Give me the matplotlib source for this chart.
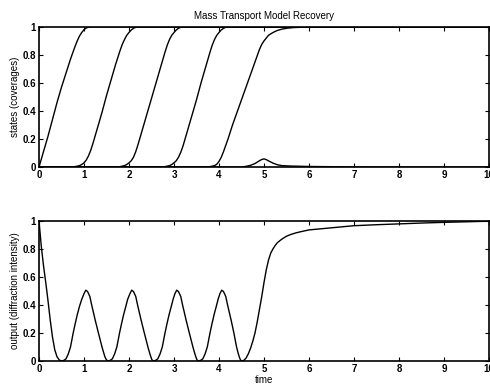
import matplotlib
matplotlib.use("Agg")
import matplotlib.pyplot as plt

# ---------------- data ----------------
title = "Mass Transport Model Recovery"
ylabel_top = "states (coverages)"
ylabel_bot = "output (diffraction intensity)"
xlabel = "time"

xticks = [0, 1, 2, 3, 4, 5, 6, 7, 8, 9, 10]
xticklabels = ["0", "1", "2", "3", "4", "5", "6", "7", "8", "9", "10"]
yticks = [0, 0.2, 0.4, 0.6, 0.8, 1.0]
yticklabels = ["0", "0.2", "0.4", "0.6", "0.8", "1"]

# layer coverages
t1 = [0, 0.05, 0.1, 0.2, 0.3, 0.4, 0.5, 0.6, 0.7, 0.8, 0.85, 0.9, 0.95, 1.0, 1.05, 1.1, 1.15, 10]
c1 = [0.0, 0.055, 0.11, 0.22, 0.34, 0.46, 0.57, 0.67, 0.77, 0.86, 0.9, 0.935, 0.96, 0.98, 0.992, 0.998, 1.0, 1.0]

t2 = [0, 0.7, 0.8, 0.9, 0.95, 1.0, 1.05, 1.1, 1.15, 1.2, 1.25, 1.3, 1.4, 1.5, 1.6, 1.7, 1.8,
      1.85, 1.9, 1.95, 2.0, 2.05, 2.1, 2.15, 2.2, 10]
c2 = [0, 0, 0.003, 0.01, 0.018, 0.03, 0.05, 0.08, 0.12, 0.17, 0.225, 0.28, 0.39, 0.51, 0.62, 0.73, 0.83,
      0.875, 0.91, 0.94, 0.96, 0.978, 0.99, 0.997, 1.0, 1.0]

t3 = [0, 1.7, 1.8, 1.9, 1.95, 2.0, 2.05, 2.1, 2.15, 2.2, 2.25, 2.3, 2.4, 2.5, 2.6, 2.7, 2.8,
      2.85, 2.9, 2.95, 3.0, 3.05, 3.1, 3.15, 3.2, 10]
c3 = [0, 0, 0.003, 0.01, 0.018, 0.03, 0.045, 0.07, 0.11, 0.16, 0.215, 0.27, 0.38, 0.49, 0.6, 0.71, 0.82,
      0.87, 0.91, 0.94, 0.96, 0.978, 0.99, 0.997, 1.0, 1.0]

t4 = [0, 2.7, 2.8, 2.9, 2.95, 3.0, 3.05, 3.1, 3.15, 3.2, 3.25, 3.3, 3.4, 3.5, 3.6, 3.7, 3.8,
      3.85, 3.9, 3.95, 4.0, 4.05, 4.1, 4.15, 4.2, 10]
c4 = [0, 0, 0.003, 0.01, 0.018, 0.03, 0.045, 0.07, 0.105, 0.15, 0.205, 0.26, 0.37, 0.48, 0.6, 0.71, 0.82,
      0.87, 0.91, 0.94, 0.96, 0.978, 0.99, 0.997, 1.0, 1.0]

t5 = [0, 3.7, 3.8, 3.9, 3.95, 4.0, 4.05, 4.1, 4.15, 4.2, 4.3, 4.4, 4.5, 4.6, 4.7, 4.8, 4.9,
      4.95, 5.0, 5.05, 5.1, 5.2, 5.3, 5.4, 5.5, 5.65, 5.8, 6.0, 6.2, 10]
c5 = [0, 0, 0.003, 0.01, 0.02, 0.04, 0.07, 0.11, 0.155, 0.2, 0.3, 0.39, 0.48, 0.57, 0.66, 0.75, 0.84,
      0.875, 0.9, 0.92, 0.94, 0.96, 0.975, 0.984, 0.99, 0.995, 0.997, 0.999, 1.0, 1.0]

t6 = [0, 4.5, 4.6, 4.7, 4.8, 4.9, 4.95, 5.0, 5.05, 5.1, 5.2, 5.3, 5.4, 5.6, 6.0, 7.0, 8.0, 10]
c6 = [0, 0, 0.005, 0.012, 0.025, 0.045, 0.054, 0.058, 0.053, 0.044, 0.028, 0.016, 0.01, 0.007, 0.004, 0.001, 0, 0]

# diffraction output
t_out = [0, 0.05, 0.1, 0.15, 0.2, 0.25, 0.3, 0.35, 0.4, 0.45, 0.5,
         0.55, 0.6, 0.65, 0.7, 0.76, 0.8, 0.85, 0.9, 0.95, 1.0, 1.04, 1.08, 1.13, 1.17,
         1.25, 1.32, 1.4, 1.44, 1.47, 1.5, 1.53,
         1.58, 1.63, 1.68, 1.73, 1.79, 1.83, 1.88, 1.93, 1.97, 2.02, 2.06, 2.1, 2.15, 2.19,
         2.27, 2.34, 2.42, 2.46, 2.49, 2.51, 2.54,
         2.59, 2.64, 2.69, 2.74, 2.8, 2.84, 2.89, 2.94, 2.98, 3.02, 3.06, 3.1, 3.15, 3.19,
         3.27, 3.34, 3.42, 3.46, 3.49, 3.51, 3.54,
         3.59, 3.64, 3.69, 3.74, 3.8, 3.84, 3.89, 3.94, 3.98, 4.02, 4.06, 4.1, 4.15, 4.19,
         4.27, 4.33, 4.39, 4.43, 4.46, 4.48, 4.5,
         4.55, 4.6, 4.65, 4.7, 4.75, 4.8, 4.85, 4.9, 4.95, 5.0, 5.05, 5.1, 5.15, 5.2,
         5.25, 5.3, 5.4, 5.5, 5.6, 5.7, 5.8, 6.0, 6.5, 7.0, 7.5, 8.0, 8.5, 9.0, 9.5, 10.0]
y_out = [1.0, 0.82, 0.68, 0.56, 0.43, 0.29, 0.17, 0.08, 0.03, 0.007, 0.0,
         0.004, 0.015, 0.05, 0.1, 0.2, 0.26, 0.33, 0.39, 0.44, 0.48, 0.505, 0.495, 0.46, 0.4,
         0.29, 0.2, 0.1, 0.055, 0.025, 0.008, 0.0,
         0.004, 0.015, 0.05, 0.1, 0.2, 0.26, 0.33, 0.39, 0.44, 0.48, 0.505, 0.495, 0.46, 0.4,
         0.29, 0.2, 0.1, 0.055, 0.025, 0.008, 0.0,
         0.004, 0.015, 0.05, 0.1, 0.2, 0.26, 0.33, 0.39, 0.44, 0.48, 0.505, 0.495, 0.46, 0.4,
         0.29, 0.2, 0.1, 0.055, 0.025, 0.008, 0.0,
         0.004, 0.015, 0.05, 0.1, 0.2, 0.26, 0.33, 0.39, 0.44, 0.48, 0.505, 0.495, 0.46, 0.4,
         0.29, 0.2, 0.1, 0.05, 0.02, 0.006, 0.0,
         0.004, 0.02, 0.05, 0.09, 0.14, 0.2, 0.28, 0.37, 0.46, 0.56, 0.65, 0.72, 0.77, 0.8,
         0.825, 0.845, 0.87, 0.89, 0.903, 0.913, 0.921, 0.935, 0.95, 0.965, 0.972, 0.978, 0.984, 0.989, 0.993, 0.997]

# ---------------- plotting ----------------
plt.rcParams['font.family'] = ['Liberation Sans', 'DejaVu Sans']
fs = 7

fig = plt.figure(figsize=(4.90, 3.84), dpi=100)
ax1 = fig.add_axes([0.0796, 0.565, 0.9184, 0.365])
ax2 = fig.add_axes([0.0796, 0.060, 0.9184, 0.365])

for t, c in [(t1, c1), (t2, c2), (t3, c3), (t4, c4), (t5, c5), (t6, c6)]:
    ax1.plot(t, c, color='black', lw=1.0, solid_joinstyle='round')
ax2.plot(t_out, y_out, color='black', lw=1.0, solid_joinstyle='round')

for ax in (ax1, ax2):
    ax.set_xlim(0, 10)
    ax.set_ylim(0, 1)
    ax.set_xticks(xticks)
    ax.set_xticklabels(xticklabels, fontsize=fs)
    ax.set_yticks(yticks)
    ax.set_yticklabels(yticklabels, fontsize=fs)
    ax.tick_params(direction='in', top=True, right=True, length=3, width=0.8, pad=2)
    for s in ax.spines.values():
        s.set_linewidth(1.2)
    for lab in ax.get_xticklabels() + ax.get_yticklabels():
        lab.set_fontweight('bold')

ax1.set_title(title, fontsize=fs, pad=6)
ax1.set_ylabel(ylabel_top, fontsize=fs, labelpad=2)
ax2.set_ylabel(ylabel_bot, fontsize=fs, labelpad=2)
ax2.set_xlabel(xlabel, fontsize=fs, labelpad=1)

fig.savefig("out.png", dpi=100)
